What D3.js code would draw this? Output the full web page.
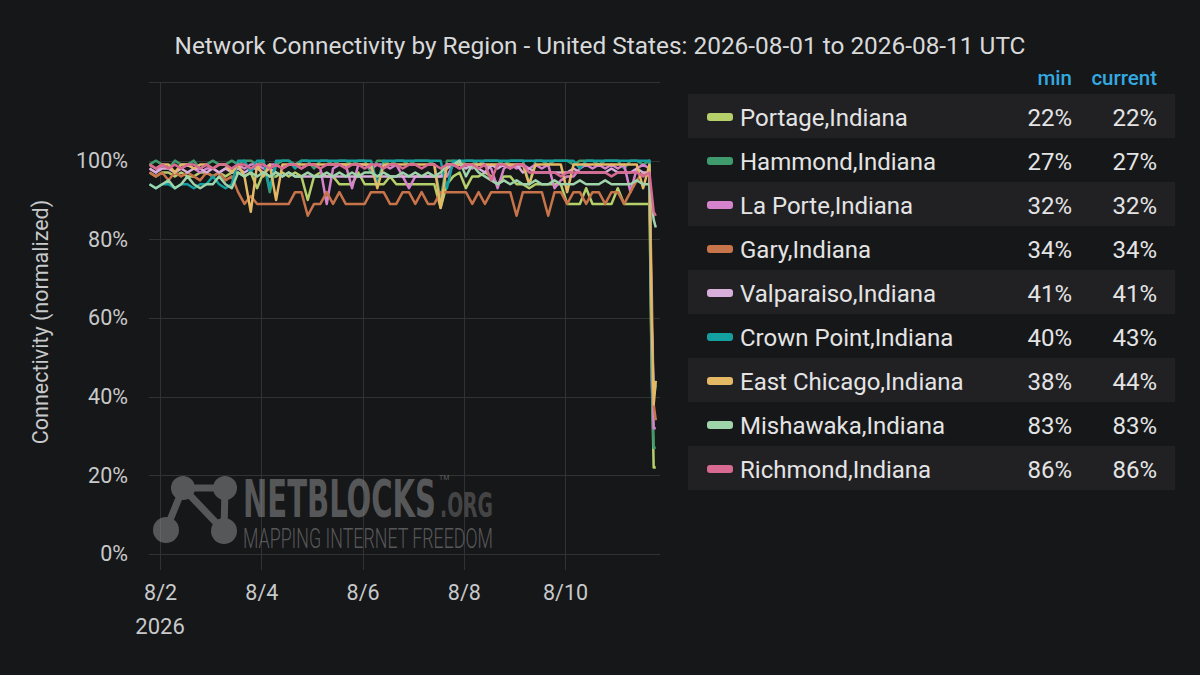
<!DOCTYPE html>
<html>
<head>
<meta charset="utf-8">
<script src="https://cdn.jsdelivr.net/npm/d3@7"></script>
<style>
body{margin:0;background:#161719;}
svg{display:block;font-family:Roboto,"Noto Sans",sans-serif;}
</style>
</head>
<body>
<svg width="1200" height="675"></svg>
<script>
// samples every 3 hours from 2026-08-01 19:00 UTC, then the last hourly points of the outage
var startTime = "2026-08-01T19:00:00Z";
var stepHours = 3;
var tailTimes = ["2026-08-11T17:00:00Z", "2026-08-11T18:00:00Z", "2026-08-11T19:00:00Z"];
var tickDates = ["2026-08-02", "2026-08-04", "2026-08-06", "2026-08-08", "2026-08-10"];
var yTicks = [0, 20, 40, 60, 80, 100];

var regions = ["Portage,Indiana", "Hammond,Indiana", "La Porte,Indiana", "Gary,Indiana", "Valparaiso,Indiana",
    "Crown Point,Indiana", "East Chicago,Indiana", "Mishawaka,Indiana", "Richmond,Indiana"];
var minValues = [22, 27, 32, 34, 41, 40, 38, 83, 86];
var currentValues = [22, 27, 32, 34, 41, 43, 44, 83, 86];

var portage = [97,96,97,97,96,97,96,96,97,97, 96,97,96,97,97,96,97,93,97,96, 96,97,96,97,96,90,96,97,96,96,
    94,94,94,97,94,94,94,94,96,94, 94,94,94,94,94,94,88,94,96,97, 93,96,96,97,96,94,96,96,94,94,
    93,94,94,94,94,94,89,89,89,93, 89,89,89,89,93,89,89,89,89,89, 50,22,22];
var hammond = [99,100,99,98,100,99,99,100,98,99, 100,99,99,100,99,100,100,99,100,92, 99,100,100,99,100,100,98,100,100,99,
    100,100,99,100,100,97,100,100,99,100, 100,99,100,100,100,99,90,100,100,99, 100,100,99,100,100,100,99,100,100,100,
    94,100,100,99,100,100,100,99,100,100, 100,99,100,100,100,98,100,100,99,100, 45,27,27];
var laPorte = [98,97,99,98,97,98,99,98,97,98, 98,97,98,98,99,98,99,99,98,99, 99,98,99,99,98,99,99,98,89,98,
    99,99,93,99,99,98,99,99,98,99, 96,93,96,96,96,96,96,96,99,98, 99,98,99,99,98,93,98,99,98,99,
    98,99,98,99,93,95,96,96,98,99, 98,99,98,99,98,99,92,98,99,98, 55,32,32];
var gary = [97,96,97,95,97,96,97,96,95,97, 96,97,95,96,92,89,91,89,89,89, 89,89,89,92,92,86,89,89,92,89,
    92,89,89,89,89,92,92,92,89,89, 92,92,89,92,89,89,92,92,92,92, 92,89,92,89,92,92,92,92,86,92,
    92,92,92,86,92,92,89,92,92,89, 92,92,89,92,92,89,92,95,97,96, 70,38,34];
var valparaiso = [98,97,98,98,97,98,97,98,98,97, 98,97,98,97,98,97,98,98,97,98, 97,96,97,96,96,96,96,96,96,96,
    96,96,96,96,96,96,96,96,96,96, 96,96,96,96,96,96,96,98,99,99, 98,99,98,97,99,98,99,98,99,97,
    98,97,97,97,97,97,97,98,97,97, 97,97,97,98,97,97,97,98,97,97, 60,41,41];
var crownPoint = [94,93,94,94,93,94,94,93,94,94, 96,94,93,94,100,100,97,100,100,93, 100,100,100,98,100,100,100,100,100,100,
    100,100,100,100,100,100,94,100,100,100, 100,100,100,100,100,100,100,93,100,100, 100,100,100,100,100,100,100,100,100,100,
    100,100,100,100,100,100,100,100,98,100, 100,100,100,100,100,100,100,100,100,100, 55,40,43];
var eastChicago = [99,98,99,99,97,99,99,98,99,99, 98,99,99,97,99,96,87,99,96,99, 90,99,99,99,99,99,99,99,99,99,
    99,99,99,99,99,99,93,99,99,99, 99,99,99,99,99,99,88,99,99,99, 99,99,99,99,99,99,99,99,99,99,
    94,99,99,99,99,99,92,99,99,99, 99,99,99,99,99,99,99,99,93,99, 60,38,44];
var mishawaka = [94,93,94,95,93,94,96,94,93,94, 94,96,94,93,97,96,97,96,97,96, 97,96,97,96,96,97,96,96,97,96,
    97,96,97,96,97,97,96,97,96,96, 97,96,97,96,97,96,97,99,99,100, 96,99,97,96,95,94,95,94,95,94,
    94,95,94,94,95,94,94,94,95,94, 94,94,95,94,94,94,94,95,94,94, 90,85,83];
var richmond = [99,98,99,98,99,98,99,99,98,99, 98,99,99,98,99,99,98,99,99,98, 99,98,99,99,98,99,99,98,99,99,
    99,98,99,99,98,99,99,98,99,99, 98,99,99,98,99,99,98,99,99,98, 99,99,98,99,95,99,99,98,99,99,
    97,97,97,97,97,96,97,97,97,97, 97,97,97,96,97,97,97,97,96,97, 92,87,86];

var seriesValues = [portage, hammond, laPorte, gary, valparaiso, crownPoint, eastChicago, mishawaka, richmond];
var palette = ["#b5cf6b", "#3f9a6d", "#d683ce", "#c8744a", "#d8aedb", "#14a0a0", "#e5b865", "#9fd4ab", "#d86a91"];

var svg = d3.select("svg");
var parseUtc = d3.utcParse("%Y-%m-%d");
var t0 = new Date(startTime);

function timeAt(i) {
    if (i < 80) return new Date(t0.getTime() + i * stepHours * 3600 * 1000);
    return new Date(tailTimes[i - 80]);
}

var x = d3.scaleUtc()
        .domain([new Date("2026-08-01T18:45:00Z"), new Date("2026-08-11T21:00:00Z")])
        .range([149, 660]);
var y = d3.scaleLinear()
        .domain([0, 120])
        .range([554, 82]);

// title
svg.append("text")
        .attr("x", 600)
        .attr("y", 54)
        .attr("text-anchor", "middle")
        .attr("fill", "#d8d9da")
        .attr("font-size", 24.4)
        .text("Network Connectivity by Region - United States: 2026-08-01 to 2026-08-11 UTC");

// grid
var grid = svg.append("g").attr("stroke", "#323235").attr("stroke-width", 1);
grid.selectAll("line.h")
        .data(yTicks.concat([120]))
        .enter().append("line")
        .attr("class", "h")
        .attr("x1", 149).attr("x2", 660)
        .attr("y1", function (d) { return Math.round(y(d)) + 0.5; })
        .attr("y2", function (d) { return Math.round(y(d)) + 0.5; });
grid.selectAll("line.v")
        .data(tickDates)
        .enter().append("line")
        .attr("class", "v")
        .attr("x1", function (d) { return Math.round(x(parseUtc(d))) + 0.5; })
        .attr("x2", function (d) { return Math.round(x(parseUtc(d))) + 0.5; })
        .attr("y1", 82).attr("y2", 570);

// watermark logo
var logo = svg.append("g").attr("opacity", 0.55).attr("fill", "#8c8c8c");
logo.append("g").attr("stroke", "#8c8c8c").attr("stroke-width", 7)
        .selectAll("line")
        .data([[183, 488, 225, 488], [183, 488, 224, 531], [225, 488, 224, 531], [183, 488, 166, 530]])
        .enter().append("line")
        .attr("x1", function (d) { return d[0]; }).attr("y1", function (d) { return d[1]; })
        .attr("x2", function (d) { return d[2]; }).attr("y2", function (d) { return d[3]; });
logo.selectAll("circle")
        .data([[183, 488, 12], [225, 488, 12], [166, 530, 13], [224, 531, 13]])
        .enter().append("circle")
        .attr("cx", function (d) { return d[0]; })
        .attr("cy", function (d) { return d[1]; })
        .attr("r", function (d) { return d[2]; });
var logoText = logo.append("text")
        .attr("font-family", "'DejaVu Sans Condensed','DejaVu Sans',sans-serif")
        .attr("font-weight", "bold");
logoText.append("tspan")
        .attr("x", 243).attr("y", 517)
        .attr("font-size", 52)
        .attr("textLength", 193)
        .attr("lengthAdjust", "spacingAndGlyphs")
        .text("NETBLOCKS");
logoText.append("tspan")
        .attr("x", 439).attr("y", 480)
        .attr("font-family", "Roboto, sans-serif")
        .attr("font-weight", "normal")
        .attr("font-size", 7)
        .text("TM");
logoText.append("tspan")
        .attr("x", 440).attr("y", 517)
        .attr("font-size", 34)
        .attr("fill", "#6a6a6a")
        .attr("textLength", 53)
        .attr("lengthAdjust", "spacingAndGlyphs")
        .text(".ORG");
logoText.append("tspan")
        .attr("x", 243).attr("y", 548)
        .attr("font-family", "Roboto, sans-serif")
        .attr("font-weight", 300)
        .attr("font-size", 28)
        .attr("textLength", 250)
        .attr("lengthAdjust", "spacingAndGlyphs")
        .text("MAPPING INTERNET FREEDOM");

// series lines
var line = d3.line()
        .x(function (d, i) { return x(timeAt(i)); })
        .y(function (d) { return y(d); });

svg.append("g")
        .attr("fill", "none")
        .attr("stroke-width", 2.5)
        .attr("stroke-linejoin", "round")
        .selectAll("path")
        .data(seriesValues)
        .enter().append("path")
        .attr("stroke", function (d, i) { return palette[i]; })
        .attr("d", line);

// axes labels
svg.append("g")
        .attr("transform", "translate(0,554)")
        .call(d3.axisBottom(x).tickValues(tickDates.map(parseUtc)).tickSize(0).tickPadding(31)
                .tickFormat(d3.utcFormat("%-m/%-d")))
        .call(function (g) { g.select(".domain").remove(); })
        .selectAll("text")
        .attr("fill", "#c8c9ca")
        .attr("font-family", "Roboto, sans-serif")
        .attr("font-size", 21.5);

svg.append("text")
        .attr("x", x(parseUtc(tickDates[0])))
        .attr("y", 634)
        .attr("text-anchor", "middle")
        .attr("fill", "#c8c9ca")
        .attr("font-size", 22)
        .text("2026");

svg.append("g")
        .attr("transform", "translate(128,0)")
        .call(d3.axisLeft(y).tickValues(yTicks).tickSize(0).tickPadding(0)
                .tickFormat(function (d) { return d + "%"; }))
        .call(function (g) { g.select(".domain").remove(); })
        .selectAll("text")
        .attr("fill", "#c8c9ca")
        .attr("font-family", "Roboto, sans-serif")
        .attr("font-size", 21.5);

svg.append("text")
        .attr("transform", "translate(48,322) rotate(-90)")
        .attr("text-anchor", "middle")
        .attr("fill", "#c8c9ca")
        .attr("font-size", 21.5)
        .text("Connectivity (normalized)");

// legend table
svg.append("text").attr("x", 1072).attr("y", 85).attr("text-anchor", "end")
        .attr("fill", "#33a9e0").attr("font-size", 20.5).attr("font-weight", 500).text("min");
svg.append("text").attr("x", 1157).attr("y", 85).attr("text-anchor", "end")
        .attr("fill", "#33a9e0").attr("font-size", 20.5).attr("font-weight", 500).text("current");

var rows = svg.append("g")
        .selectAll("g")
        .data(regions)
        .enter().append("g")
        .attr("transform", function (d, i) { return "translate(0," + (94 + i * 44) + ")"; });

rows.append("rect")
        .attr("x", 688).attr("width", 487).attr("height", 44)
        .attr("fill", function (d, i) { return i % 2 === 0 ? "#212124" : "none"; });
rows.append("rect")
        .attr("x", 707).attr("y", 19).attr("width", 26).attr("height", 8).attr("rx", 3)
        .attr("fill", function (d, i) { return palette[i]; });
rows.append("text")
        .attr("x", 740).attr("y", 32)
        .attr("fill", "#e4e4e4").attr("font-size", 24)
        .text(function (d) { return d; });
rows.append("text")
        .attr("x", 1072).attr("y", 32).attr("text-anchor", "end")
        .attr("fill", "#e4e4e4").attr("font-size", 24)
        .text(function (d, i) { return minValues[i] + "%"; });
rows.append("text")
        .attr("x", 1157).attr("y", 32).attr("text-anchor", "end")
        .attr("fill", "#e4e4e4").attr("font-size", 24)
        .text(function (d, i) { return currentValues[i] + "%"; });
</script>
</body>
</html>
